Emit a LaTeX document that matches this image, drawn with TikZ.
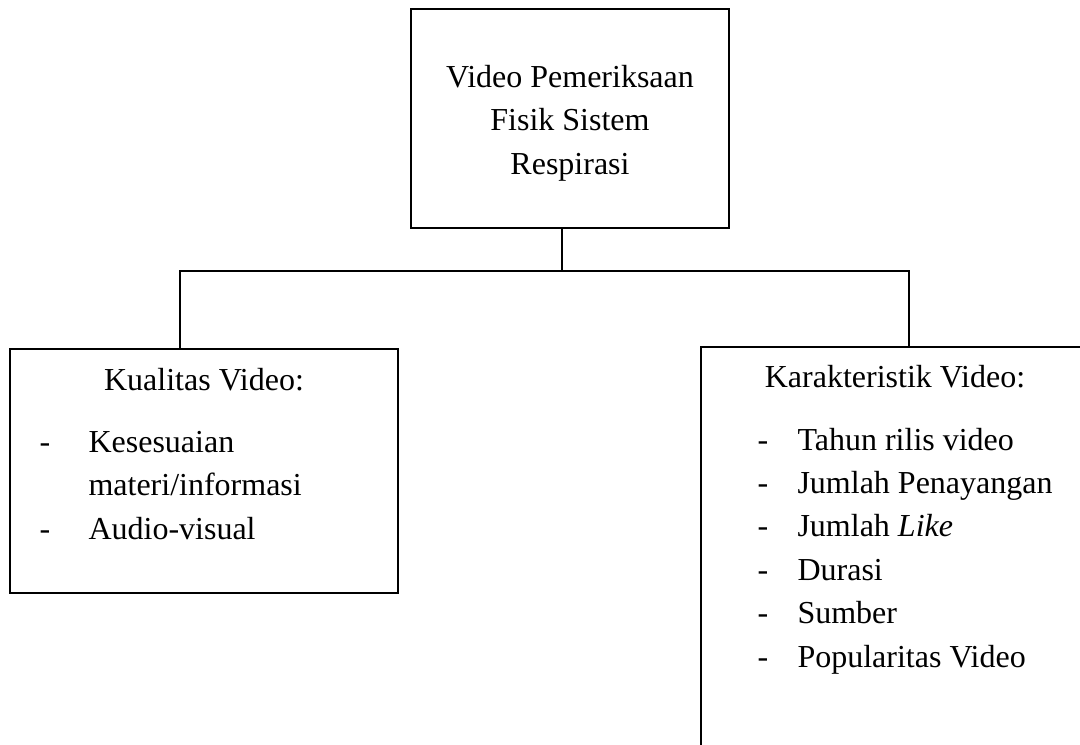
\documentclass[tikz,border=0pt]{standalone}
\usepackage{fontspec}
\setmainfont{Liberation Serif}
\usepackage{tikz}

\tikzset{
	box/.style={draw, line width=0.6pt, inner sep=0pt, outer sep=0pt},
	txt/.style={font=\fontsize{12}{14}\selectfont, inner sep=0pt, anchor=base},
	itemtxt/.style={txt, anchor=base west},
	link/.style={line width=0.6pt}
}

\begin{document}
\begin{tikzpicture}[x=0.375pt, y=-0.375pt]
		\clip (0,0) rectangle (1080,744);
		\node [box, minimum width=119.25pt, minimum height=82.1pt] (top) at (570,118.5) {};
		\node [box, minimum width=145.5pt, minimum height=91.5pt] (kual) at (204,471) {};
		\node [box, minimum width=150pt, minimum height=157.5pt] (karak) at (901,557) {};
		\coordinate (hub) at (562,271);
		\coordinate (jl) at (180,271);
		\coordinate (jr) at (909,271);
		\draw [link] (top.south -| hub) -- (hub);
		\draw [link] (kual.north -| jl) |- (jr) -- (karak.north -| jr);
		\foreach \t [count=\i] in {Video Pemeriksaan, Fisik Sistem, Respirasi}
			\node [txt] (head\i) at (570,{87+43.5*(\i-1)}) {\t};
		\node [txt] (kualt) at (204,390) {Kualitas Video:};
		\node [txt] (kd1) at (45,452) {-};
		\node [itemtxt] (ki1) at (88,452) {Kesesuaian};
		\node [itemtxt] (ki2) at (88,495.5) {materi/informasi};
		\node [txt] (kd3) at (45,539) {-};
		\node [itemtxt] (ki3) at (88,539) {Audio-visual};
		\node [txt] (kart) at (895,387) {Karakteristik Video:};
		\foreach \t [count=\i] in {Tahun rilis video, Jumlah Penayangan, Jumlah \emph{Like}, Durasi, Sumber, Popularitas Video} {
			\node [txt] (rd\i) at (763,{450+43.4*(\i-1)}) {-};
			\node [itemtxt] (ri\i) at (797,{450+43.4*(\i-1)}) {\t};
		}
	\end{tikzpicture}
\end{document}
